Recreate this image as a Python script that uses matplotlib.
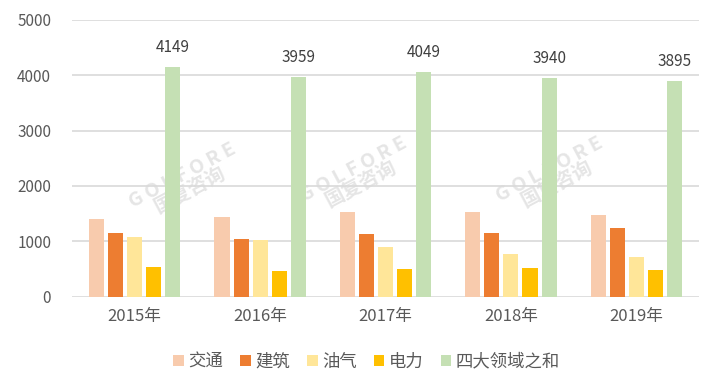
import numpy as np
import matplotlib
matplotlib.use("Agg")
import matplotlib.pyplot as plt

plt.rcParams['font.family'] = ['Noto Sans CJK SC', 'DejaVu Sans']

years = ['2015年', '2016年', '2017年', '2018年', '2019年']
series_names = ['交通', '建筑', '油气', '电力', '四大领域之和']
jiaotong = [1395, 1431, 1521, 1521, 1467]
jianzhu = [1144, 1036, 1126, 1144, 1233]
youqi = [1072, 1018, 892, 766, 713]
dianli = [533, 461, 497, 515, 479]
total = [4149, 3959, 4049, 3940, 3895]
colors = ['#F8CBAD', '#ED7D31', '#FFE699', '#FFC000', '#C5E0B4']

fig = plt.figure(figsize=(7.13, 3.84), dpi=100)
ax = fig.add_axes([0.101, 0.2273, 0.8794, 0.7214])

x = np.arange(len(years))
pitch = 0.152
width = 0.12
all_series = [jiaotong, jianzhu, youqi, dianli, total]
for i, (vals, c, name) in enumerate(zip(all_series, colors, series_names)):
    pos = x + (i - 2) * pitch
    ax.bar(pos, vals, width=width, color=c, label=name, zorder=3)
    if i == 4:
        for px, v in zip(pos, vals):
            ax.annotate(str(v), (px, v), xytext=(0, 8), textcoords='offset points',
                        ha='center', va='bottom', fontsize=11, color='#404040')

ax.set_xlim(-0.5, 4.5)
ax.set_ylim(0, 5000)
ax.set_yticks(range(0, 5001, 1000))
ax.set_xticks(x)
ax.set_xticklabels(years, fontsize=12)
ax.tick_params(axis='both', length=0, colors='#595959')
ax.tick_params(axis='y', pad=15, labelsize=11)
ax.tick_params(axis='x', pad=8)
ax.grid(axis='y', color='#D9D9D9', linewidth=1.2, zorder=1)
ax.set_axisbelow(True)
for s in ax.spines.values():
    s.set_visible(False)

# watermark
for wx, wy in [(0.183, 0.41), (0.455, 0.432), (0.767, 0.432)]:
    ax.text(wx, wy, 'G O L F O R E\n国复咨询', transform=ax.transAxes, rotation=28,
            ha='center', va='center', fontsize=14, color='#D0D0D0', alpha=0.55,
            fontweight='bold', linespacing=0.85, zorder=0.5)

ax.legend(loc='center', bbox_to_anchor=(0.47, -0.235), ncol=5, frameon=False,
          fontsize=12.5, handlelength=0.6, handleheight=0.6, handletextpad=0.25,
          columnspacing=1.0, labelcolor='#595959')

fig.savefig('out.png', dpi=100)
